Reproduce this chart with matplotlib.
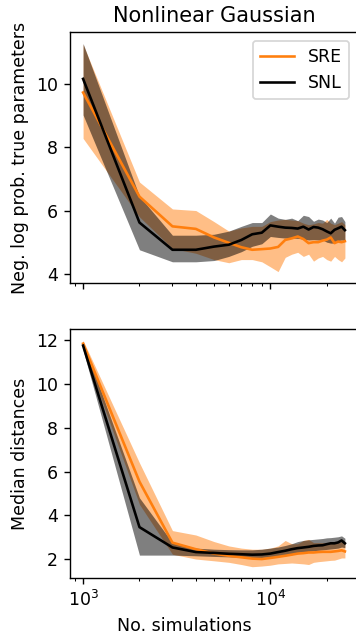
import numpy as np
import matplotlib.pyplot as plt

# number of simulations (1000 .. 25000, step 1000)
n_sims = [1000, 2000, 3000, 4000, 5000, 6000, 7000, 8000, 9000, 10000,
          11000, 12000, 13000, 14000, 15000, 16000, 17000, 18000, 19000, 20000,
          21000, 22000, 23000, 24000, 25000]

# ---- top panel: negative log prob of true parameters ----
sre_nlp = [9.73, 6.44, 5.50, 5.42, 5.15, 4.98, 4.84, 4.76, 4.78, 4.80,
           4.85, 5.07, 5.12, 5.18, 5.10, 4.97, 5.00, 5.00, 5.05, 5.08,
           5.15, 4.97, 5.02, 5.00, 5.03]
sre_nlp_lo = [8.28, 5.80, 4.80, 4.65, 4.45, 4.35, 4.45, 4.45, 4.38, 4.22,
              4.07, 4.52, 4.62, 4.68, 4.55, 4.62, 4.40, 4.50, 4.55, 4.45,
              4.40, 4.55, 4.45, 4.38, 4.50]
sre_nlp_hi = [11.25, 6.90, 6.05, 6.00, 5.65, 5.35, 5.45, 5.50, 5.50, 5.65,
              5.70, 5.72, 5.70, 5.68, 5.60, 5.55, 5.58, 5.62, 5.60, 5.72,
              5.60, 5.55, 5.60, 5.65, 5.55]

snl_nlp = [10.16, 5.62, 4.76, 4.76, 4.86, 4.92, 5.07, 5.25, 5.30, 5.53,
           5.49, 5.46, 5.45, 5.43, 5.49, 5.40, 5.48, 5.46, 5.41, 5.34,
           5.28, 5.39, 5.44, 5.49, 5.38]
snl_nlp_lo = [9.02, 4.76, 4.38, 4.38, 4.42, 4.55, 4.70, 4.87, 4.95, 5.18,
              5.15, 5.13, 5.13, 5.12, 5.10, 5.07, 5.08, 5.07, 5.07, 5.00,
              4.97, 4.97, 5.05, 5.07, 5.05]
snl_nlp_hi = [11.28, 6.45, 5.22, 5.22, 5.25, 5.35, 5.50, 5.62, 5.62, 5.89,
              5.76, 5.72, 5.76, 5.68, 5.85, 5.81, 5.66, 5.73, 5.70, 5.62,
              5.76, 5.60, 5.79, 5.81, 5.65]

# ---- bottom panel: median distances ----
sre_md = [11.85, 5.54, 2.75, 2.45, 2.25, 2.15, 2.08, 2.02, 2.00, 2.05,
          2.10, 2.15, 2.20, 2.25, 2.27, 2.30, 2.30, 2.32, 2.33, 2.33,
          2.33, 2.35, 2.37, 2.40, 2.35]
sre_md_lo = [11.60, 4.50, 2.22, 2.00, 1.92, 1.85, 1.75, 1.65, 1.68, 1.72,
             1.78, 1.80, 1.82, 1.80, 1.78, 1.75, 1.85, 1.88, 1.90, 1.92,
             1.94, 1.95, 2.00, 2.05, 2.05]
sre_md_hi = [12.00, 6.40, 3.30, 3.10, 2.80, 2.60, 2.50, 2.45, 2.45, 2.50,
             2.60, 2.85, 2.70, 2.70, 2.85, 2.90, 2.75, 2.75, 2.75, 2.75,
             2.75, 2.80, 2.75, 2.80, 2.75]

snl_md = [11.76, 3.46, 2.53, 2.32, 2.28, 2.24, 2.22, 2.20, 2.21, 2.25,
          2.32, 2.38, 2.45, 2.50, 2.53, 2.56, 2.60, 2.62, 2.63, 2.68,
          2.72, 2.72, 2.76, 2.85, 2.72]
snl_md_lo = [11.55, 2.18, 2.18, 2.15, 2.12, 2.10, 2.08, 2.07, 2.07, 2.10,
             2.13, 2.15, 2.20, 2.30, 2.33, 2.35, 2.38, 2.40, 2.42, 2.44,
             2.46, 2.48, 2.50, 2.55, 2.52]
snl_md_hi = [11.95, 4.80, 2.75, 2.50, 2.45, 2.43, 2.42, 2.42, 2.45, 2.50,
             2.55, 2.62, 2.70, 2.80, 2.85, 2.88, 2.90, 2.92, 2.94, 2.97,
             2.98, 3.00, 3.02, 3.06, 2.95]

SRE_COLOR = '#ff7f0e'
SNL_COLOR = 'black'

fig = plt.figure(figsize=(356 / 125, 638 / 125), dpi=125)
ax1 = fig.add_axes([0.1966, 0.5564, 0.809, 0.3934])
ax2 = fig.add_axes([0.1966, 0.0940, 0.809, 0.3903], sharex=ax1)


def draw_panel(ax, sre, sre_lo, sre_hi, snl, snl_lo, snl_hi):
    ax.fill_between(n_sims, sre_lo, sre_hi, color=SRE_COLOR, alpha=0.5, lw=0)
    ax.fill_between(n_sims, snl_lo, snl_hi, color=SNL_COLOR, alpha=0.5, lw=0)
    ax.plot(n_sims, sre, color=SRE_COLOR, lw=1.5, label='SRE')
    ax.plot(n_sims, snl, color=SNL_COLOR, lw=1.5, label='SNL')
    ax.set_xscale('log')


draw_panel(ax1, sre_nlp, sre_nlp_lo, sre_nlp_hi, snl_nlp, snl_nlp_lo, snl_nlp_hi)
draw_panel(ax2, sre_md, sre_md_lo, sre_md_hi, snl_md, snl_md_lo, snl_md_hi)

ax1.set_title('Nonlinear Gaussian', fontsize=12)
ax1.set_ylabel('Neg. log prob. true parameters')
ax1.set_yticks([4, 6, 8, 10])
ax1.tick_params(axis='x', which='both', labelbottom=False)
ax1.legend(loc='upper right')

ax2.set_ylabel('Median distances')
ax2.set_yticks([2, 4, 6, 8, 10, 12])
ax2.set_xlabel('No. simulations', x=0.396)

fig.savefig('out.png', dpi=125)
